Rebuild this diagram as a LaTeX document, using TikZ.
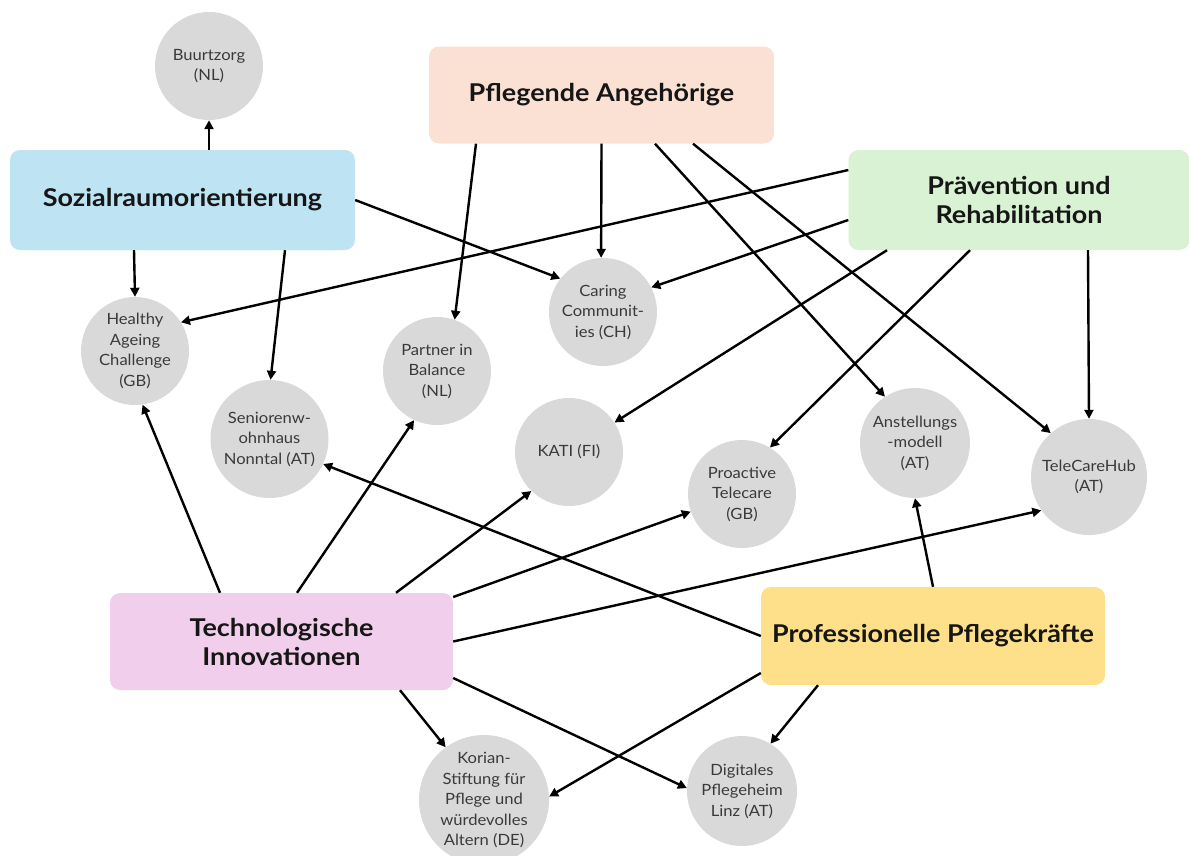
\documentclass[tikz,border=0pt]{standalone}
\usepackage{fontspec}
\setmainfont{Lato}
\newfontfamily\hubfont[FakeStretch=1.1]{Lato}
\newfontfamily\projfont[FakeStretch=1.07]{Lato}
\usetikzlibrary{arrows.meta}
\definecolor{cblue}{RGB}{190,227,243}
\definecolor{cpeach}{RGB}{250,225,212}
\definecolor{cgreen}{RGB}{217,242,212}
\definecolor{cpink}{RGB}{240,206,236}
\definecolor{cyellow}{RGB}{254,224,138}
\definecolor{cgrey}{RGB}{217,217,217}
\definecolor{tdark}{RGB}{22,22,22}
\definecolor{tgrey}{RGB}{58,58,58}
\tikzset{
  hub/.style={rectangle, rounded corners=10pt, inner sep=0pt, align=center,
    text=tdark, font=\hubfont\fontsize{24.5}{29}\selectfont\bfseries},
  proj/.style={circle, fill=cgrey, inner sep=0pt, minimum size=#1, align=center,
    text=tgrey, font=\projfont\fontsize{15.5}{20.5}\selectfont},
  arr/.style={-{Triangle[length=9pt,width=9pt]}, line width=2.4pt, draw=black}
}
\begin{document}
\begin{tikzpicture}[x=1pt,y=-1pt]
\useasboundingbox (0,0) rectangle (1189,855);
% hubs
\node[hub, fill=cblue, minimum width=345pt, minimum height=100pt] (soz) at (182.5,200) {Sozialraumorientierung};
\node[hub, fill=cpeach, minimum width=345pt, minimum height=97pt] (pfl) at (601.5,95) {Pflegende Angehörige};
\node[hub, fill=cgreen, minimum width=341pt, minimum height=100pt] (prae) at (1019,200) {Prävention und\\Rehabilitation};
\node[hub, fill=cpink, minimum width=343pt, minimum height=97pt] (tech) at (281.5,641.5) {Technologische\\Innovationen};
\node[hub, fill=cyellow, minimum width=344pt, minimum height=98pt] (prof) at (933,636) {Professionelle Pflegekräfte};
% projects
\node[proj=108pt] (buu) at (209,66) {Buurtzorg\\(NL)};
\node[proj=108pt] (hea) at (135,351) {Healthy\\Ageing\\Challenge\\(GB)};
\node[proj=118pt] (sen) at (269.5,439) {Seniorenw-\\ohnhaus\\Nonntal (AT)};
\node[proj=108pt] (par) at (437,371) {Partner in\\Balance\\(NL)};
\node[proj=108pt] (car) at (603,312) {Caring\\Communit-\\ies (CH)};
\node[proj=108pt] (kat) at (569,452) {KATI (FI)};
\node[proj=108pt] (pro) at (742,494) {Proactive\\Telecare\\(GB)};
\node[proj=110pt] (ans) at (915,443) {Anstellungs\\-modell\\(AT)};
\node[proj=116pt] (tel) at (1089,477) {TeleCareHub\\(AT)};
\node[proj=130pt] (kor) at (484,800) {Korian-\\Stiftung für\\Pflege und\\würdevolles\\Altern (DE)};
\node[proj=110pt] (dig) at (742,791) {Digitales\\Pflegeheim\\Linz (AT)};
% Sozialraumorientierung
\draw[arr] ([xshift=26.5pt]soz.north) -- (buu.270);
\draw[arr] ([xshift=-48.5pt]soz.south) -- (hea.90);
\draw[arr] ([xshift=102.5pt]soz.south) -- (sen.89);
\draw[arr] (soz.east) -- (car.142);
% Pflegende Angehoerige
\draw[arr] ([xshift=-125.5pt]pfl.south) -- (par.71);
\draw[arr] (pfl.south) -- (car.92);
\draw[arr] ([xshift=53.5pt]pfl.south) -- (ans.123);
\draw[arr] ([xshift=91.5pt]pfl.south) -- (tel.131);
% Praevention
\draw[arr] ([yshift=30pt]prae.west) -- (hea.32);
\draw[arr] ([yshift=-20pt]prae.west) -- (car.27);
\draw[arr] ([xshift=-132pt]prae.south) -- (kat.33);
\draw[arr] ([xshift=-49pt]prae.south) -- (pro.59);
\draw[arr] ([xshift=69pt]prae.south) -- (tel.90);
% Technologische Innovationen
\draw[arr] ([xshift=-61.5pt]tech.north) -- (hea.278);
\draw[arr] ([xshift=15.5pt]tech.north) -- (par.245);
\draw[arr] ([xshift=114.5pt]tech.north) -- (kat.226);
\draw[arr] ([yshift=44.5pt]tech.east) -- (pro.199);
\draw[arr] (tech.east) -- (tel.215);
\draw[arr] ([xshift=118.5pt]tech.south) -- (kor.126);
\draw[arr] ([yshift=-36.5pt]tech.east) -- (dig.177);
% Professionelle Pflegekraefte
\draw[arr] (prof.west) -- (sen.335);
\draw[arr] (prof.north) -- (ans.270);
\draw[arr] ([yshift=-37pt]prof.west) -- (kor.3);
\draw[arr] ([xshift=-115pt]prof.south) -- (dig.59);
\end{tikzpicture}
\end{document}
